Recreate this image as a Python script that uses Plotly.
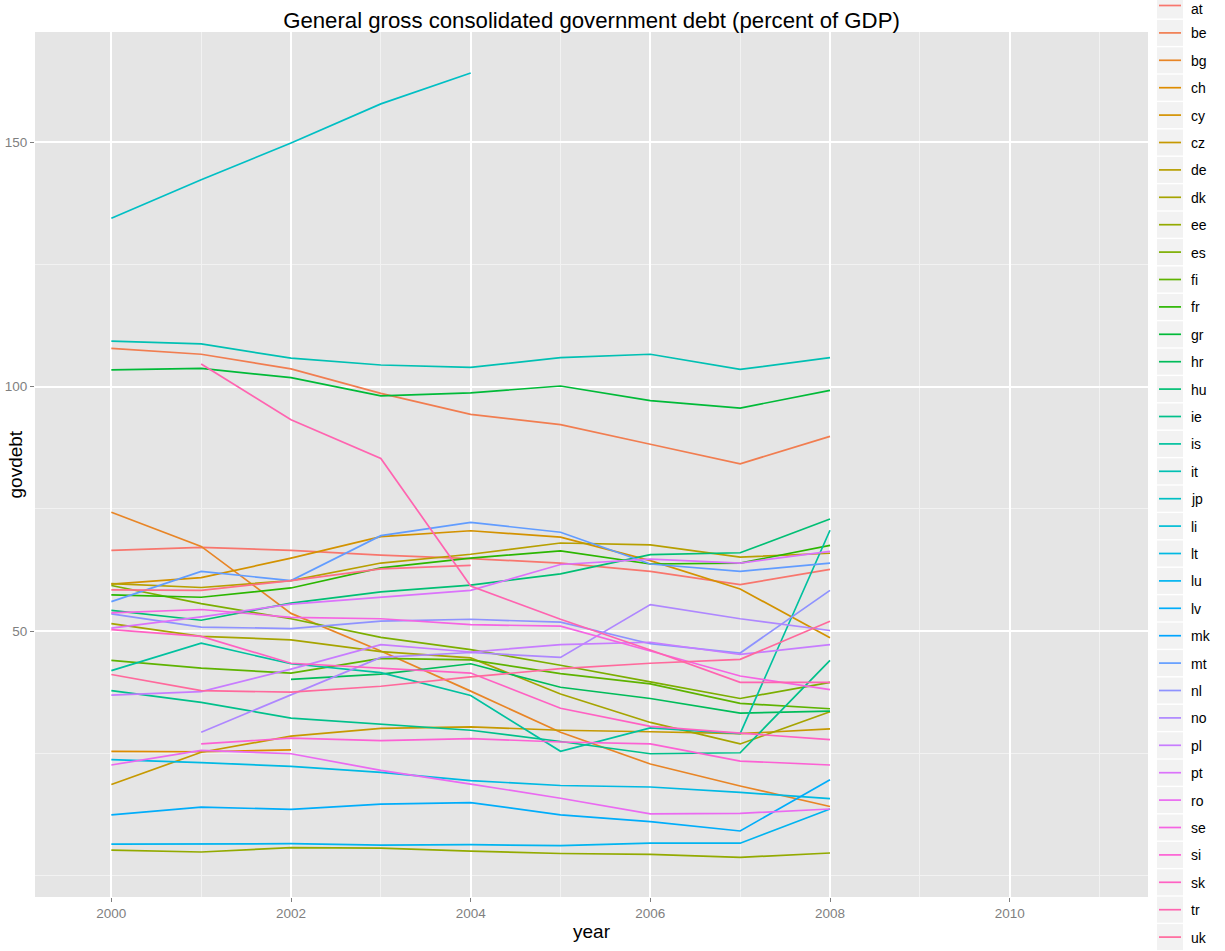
import math
import plotly.graph_objects as go

years = [2000, 2001, 2002, 2003, 2004, 2005, 2006, 2007, 2008]
countries = ["at", "be", "bg", "ch", "cy", "cz", "de", "dk", "ee", "es", "fi", "fr",
             "gr", "hr", "hu", "ie", "is", "it", "jp", "li", "lt", "lu", "lv", "mk",
             "mt", "nl", "no", "pl", "pt", "ro", "se", "si", "sk", "tr", "uk", "us"]

at = [66.5, 67.1, 66.5, 65.5, 64.8, 63.9, 62.2, 59.5, 62.6]
be = [107.8, 106.6, 103.6, 98.6, 94.3, 92.2, 88.2, 84.2, 89.8]
bg = [74.3, 67.3, 53.6, 45.9, 37.7, 29.3, 22.8, 18.3, 14.1]
ch = [25.4, 25.3, 25.7, None, None, None, None, None, None]
cy = [59.6, 60.9, 64.9, 69.3, 70.5, 69.2, 64.4, 58.6, 48.6]
cz = [18.6, 25.2, 28.5, 30.1, 30.4, 29.7, 29.4, 29.0, 30.0]
de = [59.7, 58.9, 60.3, 63.9, 65.7, 68.0, 67.6, 65.1, 65.9]
dk = [51.5, 48.9, 48.2, 45.8, 44.5, 37.1, 31.3, 26.9, 33.5]
ee = [5.2, 4.8, 5.7, 5.6, 5.0, 4.5, 4.3, 3.7, 4.6]
es = [59.3, 55.6, 52.5, 48.7, 46.2, 43.0, 39.6, 36.2, 39.5]
fi = [44.0, 42.4, 41.4, 44.4, 44.1, 41.3, 39.2, 35.2, 34.1]
fr = [57.4, 56.9, 58.8, 62.9, 64.9, 66.4, 63.7, 63.9, 67.5]
gr = [103.4, 103.7, 101.8, 98.1, 98.7, 100.1, 97.1, 95.6, 99.2]
hr = [None, None, 40.1, 41.2, 43.3, 38.5, 36.2, 33.2, 33.6]
hu = [54.2, 52.2, 55.7, 58.0, 59.4, 61.7, 65.6, 66.0, 72.9]
ie = [37.8, 35.4, 32.2, 31.0, 29.7, 27.4, 24.9, 25.1, 44.0]
is_ = [41.9, 47.5, 43.3, 41.5, 36.8, 25.4, 30.2, 29.0, 70.6]
it = [109.3, 108.7, 105.8, 104.4, 103.9, 105.9, 106.6, 103.5, 105.9]
jp = [134.4, 142.3, 149.8, 157.8, 164.1, None, None, None, None]
li = [None, None, None, None, None, None, None, None, None]
lt = [23.7, 23.1, 22.3, 21.1, 19.4, 18.4, 18.1, 17.0, 15.7]
lu = [6.4, 6.5, 6.5, 6.2, 6.3, 6.1, 6.6, 6.6, 13.6]
lv = [12.4, 14.0, 13.5, 14.6, 14.9, 12.4, 11.0, 9.1, 19.6]
mk = [None, None, None, None, None, None, None, None, None]
mt = [56.0, 62.2, 60.3, 69.5, 72.2, 70.2, 63.7, 62.2, 63.9]
nl = [53.5, 50.8, 50.5, 52.0, 52.4, 51.8, 47.4, 45.5, 58.3]
no = [None, 29.3, 36.9, 44.6, 45.6, 44.6, 55.4, 52.5, 50.1]
pl = [36.9, 37.6, 42.2, 47.2, 45.7, 47.2, 47.7, 45.2, 47.2]
pt = [50.6, 52.9, 55.5, 56.9, 58.3, 63.6, 64.7, 63.9, 66.3]
ro = [22.6, 25.6, 24.9, 21.5, 18.7, 15.8, 12.6, 12.7, 13.6]
se = [53.7, 54.4, 52.8, 52.5, 51.3, 51.0, 45.9, 40.8, 38.0]
si = [None, 26.9, 28.1, 27.6, 28.0, 27.3, 26.9, 23.4, 22.6]
sk = [50.3, 48.9, 43.4, 42.4, 41.4, 34.2, 30.5, 29.1, 27.8]
tr = [None, 104.6, 93.2, 85.3, 59.2, 52.4, 46.1, 39.5, 39.5]
uk = [41.1, 37.8, 37.5, 38.7, 40.6, 42.3, 43.4, 44.2, 52.0]
us = [58.4, 58.3, 60.3, 62.7, 63.4, None, None, None, None]

series = [at, be, bg, ch, cy, cz, de, dk, ee, es, fi, fr, gr, hr, hu, ie, is_, it,
          jp, li, lt, lu, lv, mk, mt, nl, no, pl, pt, ro, se, si, sk, tr, uk, us]

title_text = "General gross consolidated government debt (percent of GDP)"
x_title = "year"
y_title = "govdebt"
x_ticks = [2000, 2002, 2004, 2006, 2008, 2010]
y_ticks = [50, 100, 150]


def hcl_hex(h, c=100.0, l=65.0):
    # polar LUV (R hcl) -> sRGB
    xn, yn, zn = 95.047, 100.0, 108.883
    hr_ = math.radians(h)
    u = c * math.cos(hr_)
    v = c * math.sin(hr_)
    y = yn * (((l + 16) / 116) ** 3 if l > 8 else l / 903.3)
    den = xn + 15 * yn + 3 * zn
    un = 4 * xn / den
    vn = 9 * yn / den
    up = u / (13 * l) + un
    vp = v / (13 * l) + vn
    x = 9.0 * y * up / (4 * vp)
    z = -x / 3 - 5 * y + 3 * y / vp
    x, y, z = x / 100, y / 100, z / 100
    r = 3.240479 * x - 1.537150 * y - 0.498535 * z
    g = -0.969256 * x + 1.875992 * y + 0.041556 * z
    b = 0.055648 * x - 0.204043 * y + 1.057311 * z

    def gam(t):
        t = 12.92 * t if t <= 0.0031308 else 1.055 * (t ** (1 / 2.4)) - 0.055
        return int(round(min(1.0, max(0.0, t)) * 255))
    return "#%02X%02X%02X" % (gam(r), gam(g), gam(b))


n = len(countries)
colors = [hcl_hex((15 + i * 360.0 / n) % 360) for i in range(n)]

W, H = 1225, 951
PL, PR, PT, PB = 35, 1148, 32, 897  # panel edges in px


def px_x(px):
    return (px - PL) / (PR - PL)


def px_y(py):
    return (PB - py) / (PB - PT)


FONT = "Liberation Sans, Arial, Helvetica, sans-serif"

fig = go.Figure()
for name, vals, col in zip(countries, series, colors):
    fig.add_trace(go.Scatter(
        x=years, y=vals, mode="lines", name=name,
        line=dict(color=col, width=1.7), showlegend=False,
        connectgaps=False, hoverinfo="name+x+y"))

shapes = []
annotations = []
# manual ggplot-style legend (last key falls below the page edge, as in the reference)
for i, (name, col) in enumerate(zip(countries, colors)):
    cy_ = 5.5 + 27.4 * i
    shapes.append(dict(type="rect", xref="paper", yref="paper",
                       x0=px_x(1157), x1=px_x(1183),
                       y0=px_y(cy_ + 13), y1=px_y(cy_ - 13),
                       fillcolor="#F2F2F2", line=dict(width=0), layer="above"))
    shapes.append(dict(type="line", xref="paper", yref="paper",
                       x0=px_x(1159), x1=px_x(1181), y0=px_y(cy_), y1=px_y(cy_),
                       line=dict(color=col, width=1.7), layer="above"))
    if cy_ < H - 8:
        ty = max(cy_ + 0.5, 8.5)
        annotations.append(dict(text=name, xref="paper", yref="paper",
                                x=px_x(1189), y=px_y(ty), xanchor="left",
                                yanchor="middle", showarrow=False,
                                font=dict(size=14, color="#000000", family=FONT)))

annotations.append(dict(text=x_title, xref="paper", yref="paper",
                        x=0.5, y=px_y(932), xanchor="center", yanchor="middle",
                        showarrow=False, font=dict(size=19, color="#000000", family=FONT)))
annotations.append(dict(text=y_title, xref="paper", yref="paper",
                        x=px_x(15), y=0.5, xanchor="center", yanchor="middle", textangle=-90,
                        showarrow=False, font=dict(size=19, color="#000000", family=FONT)))

fig.update_layout(
    width=W, height=H,
    margin=dict(l=PL, r=W - PR, t=PT, b=H - PB),
    paper_bgcolor="#FFFFFF",
    plot_bgcolor="#E5E5E5",
    title=dict(text=title_text, x=0.5, xref="paper", y=1 - 20 / H, yref="container",
               xanchor="center", yanchor="middle",
               font=dict(size=22.2, color="#000000", family=FONT)),
    font=dict(family=FONT),
    shapes=shapes,
    annotations=annotations,
    xaxis=dict(range=[1999.15, 2011.54], tickvals=x_ticks, ticktext=[str(v) for v in x_ticks],
               showgrid=True, gridcolor="#FFFFFF", gridwidth=1.6, zeroline=False,
               ticks="outside", ticklen=4, tickcolor="#7F7F7F", tickwidth=1,
               tickfont=dict(size=13.5, color="#7F7F7F", family=FONT),
               minor=dict(tickvals=list(range(1999, 2012)), showgrid=True,
                          gridcolor="#F2F2F2", gridwidth=0.8, ticks=""),
               showline=False, automargin=False),
    yaxis=dict(range=[-4.4, 172.5], tickvals=y_ticks, ticktext=[str(v) for v in y_ticks],
               showgrid=True, gridcolor="#FFFFFF", gridwidth=1.6, zeroline=False,
               ticks="outside", ticklen=4, tickcolor="#7F7F7F", tickwidth=1,
               tickfont=dict(size=13.5, color="#7F7F7F", family=FONT),
               minor=dict(tickvals=[0, 25, 75, 125], showgrid=True,
                          gridcolor="#F2F2F2", gridwidth=0.8, ticks=""),
               showline=False, automargin=False),
)

fig.write_html("out.html", config={"displayModeBar": False},
               post_script="document.body.style.margin='0';document.body.style.overflow='hidden';")
